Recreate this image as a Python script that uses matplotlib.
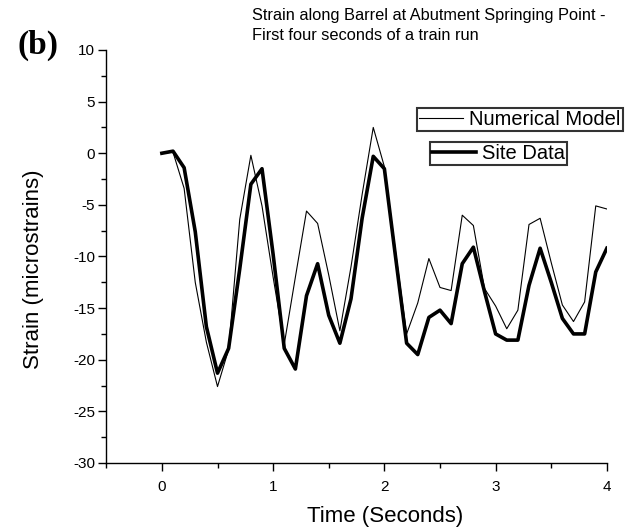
import numpy as np
import matplotlib
matplotlib.use("Agg")
import matplotlib.pyplot as plt
from matplotlib.ticker import MultipleLocator

# Time axis, 0.1 s steps over the first four seconds
time_s = np.round(np.arange(0, 4.01, 0.1), 1)

# Values (microstrains)
numerical_model = [0.0, 0.1, -3.4, -12.5, -18.3, -22.6, -19.0, -6.4, -0.2, -5.1,
                   -12.0, -18.5, -12.0, -5.6, -6.8, -11.8, -17.2, -11.0, -4.0, 2.5,
                   -1.3, -9.5, -17.5, -14.5, -10.2, -13.0, -13.3, -6.0, -7.0, -13.1,
                   -14.8, -17.0, -15.2, -6.9, -6.3, -10.6, -14.7, -16.3, -14.4, -5.1,
                   -5.4]
site_data = [0.0, 0.2, -1.4, -7.6, -16.8, -21.3, -18.9, -11.2, -3.0, -1.5,
             -9.8, -18.9, -20.9, -13.8, -10.7, -15.7, -18.4, -14.1, -6.3, -0.3,
             -1.5, -10.0, -18.4, -19.5, -15.9, -15.2, -16.5, -10.7, -9.1, -13.4,
             -17.5, -18.1, -18.1, -12.8, -9.2, -12.5, -16.0, -17.5, -17.5, -11.5,
             -9.2]

plt.rcParams["font.family"] = ["Liberation Sans", "DejaVu Sans"]
plt.rcParams["axes.unicode_minus"] = False

fig = plt.figure(figsize=(6.25, 5.29), dpi=100)
ax = fig.add_axes([0.170, 0.1248, 0.801, 0.7807])

num_line, = ax.plot(time_s, numerical_model, color="black", lw=0.8)
site_line, = ax.plot(time_s, site_data, color="black", lw=2.6)

ax.set_xlim(-0.5, 4)
ax.set_ylim(-30, 10)
ax.xaxis.set_major_locator(MultipleLocator(1))
ax.xaxis.set_minor_locator(MultipleLocator(0.5))
ax.yaxis.set_major_locator(MultipleLocator(5))
ax.yaxis.set_minor_locator(MultipleLocator(2.5))
ax.tick_params(which="major", direction="out", length=6, width=1, labelsize=11)
ax.tick_params(which="minor", direction="out", length=3.5, width=1)
ax.tick_params(axis="x", pad=6)
ax.tick_params(axis="y", pad=2)

for side in ("top", "right"):
    ax.spines[side].set_visible(False)
for side in ("left", "bottom"):
    ax.spines[side].set_linewidth(1.0)

ax.set_xlabel("Time (Seconds)", fontsize=16)
ax.xaxis.set_label_coords(0.557, -0.105)
ax.set_ylabel("Strain (microstrains)", fontsize=16)
ax.yaxis.set_label_coords(-0.125, 0.47)

fig.text(0.403, 0.985, "Strain along Barrel at Abutment Springing Point -\nFirst four seconds of a train run",
         fontsize=11.8, ha="left", va="top", linespacing=1.4)
fig.text(0.028, 0.915, "(b)", fontsize=24, fontweight="bold",
         family="Liberation Serif", ha="left", va="center")

# two separate legend boxes, as in the original
leg1 = ax.legend([num_line], ["Numerical Model"], loc="upper left",
                 bbox_to_anchor=(417 / 625, 1 - 108 / 529), bbox_transform=fig.transFigure,
                 fontsize=14.5, frameon=True, fancybox=False, handlelength=2.2,
                 borderpad=0.1, borderaxespad=0, handletextpad=0.3)
leg1.get_frame().set_edgecolor("black")
leg1.get_frame().set_linewidth(1.5)
ax.add_artist(leg1)

leg2 = ax.legend([site_line], ["Site Data"], loc="upper left",
                 bbox_to_anchor=(430 / 625, 1 - 142 / 529), bbox_transform=fig.transFigure,
                 fontsize=14.5, frameon=True, fancybox=False, handlelength=2.2,
                 borderpad=0.1, borderaxespad=0, handletextpad=0.3)
leg2.get_frame().set_edgecolor("black")
leg2.get_frame().set_linewidth(1.5)

fig.savefig("out.png", dpi=100)
